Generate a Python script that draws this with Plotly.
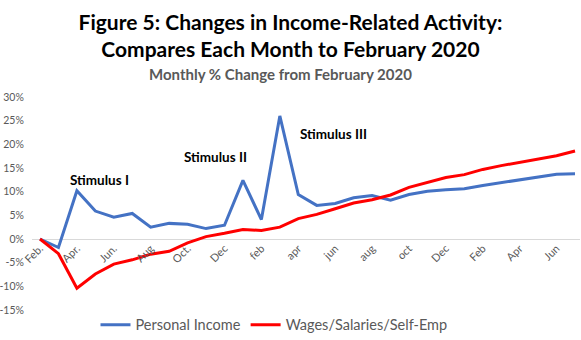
import plotly.graph_objects as go

# Monthly observations, Feb 2020 .. Jul 2022
months = ["2020-02", "2020-03", "2020-04", "2020-05", "2020-06", "2020-07", "2020-08", "2020-09",
          "2020-10", "2020-11", "2020-12", "2021-01", "2021-02", "2021-03", "2021-04", "2021-05",
          "2021-06", "2021-07", "2021-08", "2021-09", "2021-10", "2021-11", "2021-12", "2022-01",
          "2022-02", "2022-03", "2022-04", "2022-05", "2022-06", "2022-07"]

personal_income = [0.0, -1.8, 10.2, 5.9, 4.6, 5.4, 2.5, 3.3, 3.1, 2.2, 2.9, 12.4, 4.1, 26.0, 9.4,
                   7.1, 7.5, 8.7, 9.2, 8.2, 9.4, 10.1, 10.4, 10.6, 11.3, 11.9, 12.4, 13.0, 13.7, 13.8]

wages = [0.0, -3.1, -10.4, -7.4, -5.3, -4.4, -3.2, -2.6, -0.8, 0.5, 1.2, 2.0, 1.8, 2.5, 4.3,
         5.2, 6.4, 7.6, 8.3, 9.3, 10.9, 12.0, 13.0, 13.6, 14.7, 15.5, 16.2, 17.0, 17.6, 18.6]

tick_labels = ["Feb.", "Apr.", "Jun.", "Aug", "Oct.", "Dec", "feb", "apr", "jun", "aug",
               "oct", "Dec", "Feb", "Apr", "Jun"]

y_ticks = [-15, -10, -5, 0, 5, 10, 15, 20, 25, 30]

stimulus_labels = ["Stimulus I", "Stimulus II", "Stimulus III"]
stimulus_x = [3.25, 9.5, 15.9]
stimulus_y = [12.4, 17.3, 22.2]

idx = list(range(len(months)))

FONT = "Lato"
GRAY = "#595959"

fig = go.Figure()
fig.add_trace(go.Scatter(x=idx, y=personal_income, mode="lines", name="Personal Income",
                         line=dict(color="#4472C4", width=3)))
fig.add_trace(go.Scatter(x=idx, y=wages, mode="lines", name="Wages/Salaries/Self-Emp",
                         line=dict(color="#FF0000", width=3)))

for t, x, y in zip(stimulus_labels, stimulus_x, stimulus_y):
    fig.add_annotation(x=x, y=y, text="<b>" + t + "</b>", showarrow=False,
                       font=dict(family=FONT, size=13.5, color="black"),
                       xanchor="center", yanchor="middle")

fig.update_layout(
    width=581, height=340,
    margin=dict(l=32, r=1, t=97, b=30, autoexpand=False),
    paper_bgcolor="white", plot_bgcolor="white",
    title=dict(text="<b>Figure 5: Changes in Income-Related Activity:<br>Compares Each Month to February 2020</b>",
               x=0.5, xanchor="center", xref="container", yref="container",
               y=1 - 30 / 340, yanchor="middle",
               font=dict(family=FONT, size=21, color="black")),
    showlegend=True,
    legend=dict(orientation="h", x=0.4416, xanchor="center", y=-0.07, yanchor="middle",
                font=dict(family=FONT, size=14.5, color=GRAY)),
    xaxis=dict(range=[-0.434, 29.27], tickvals=idx[::2], ticktext=tick_labels,
               tickangle=-45, showgrid=False, zeroline=False, showline=False,
               anchor="free", position=1/3, automargin=False,
               tickfont=dict(family=FONT, size=11, color=GRAY)),
    yaxis=dict(range=[-15, 30], tickvals=y_ticks, ticktext=[f"{v}%" for v in y_ticks],
               showgrid=False, zeroline=True, zerolinecolor="#d9d9d9", zerolinewidth=1,
               showline=False, automargin=False,
               ticks="outside", ticklen=5, tickcolor="rgba(0,0,0,0)",
               tickfont=dict(family=FONT, size=10.5, color=GRAY)),
)

fig.add_annotation(text="<b>Monthly % Change from February 2020</b>", xref="paper", yref="paper",
                   x=0.4526, y=1.108, showarrow=False, xanchor="center", yanchor="middle",
                   font=dict(family=FONT, size=15, color=GRAY))

fig.write_html("out.html")
